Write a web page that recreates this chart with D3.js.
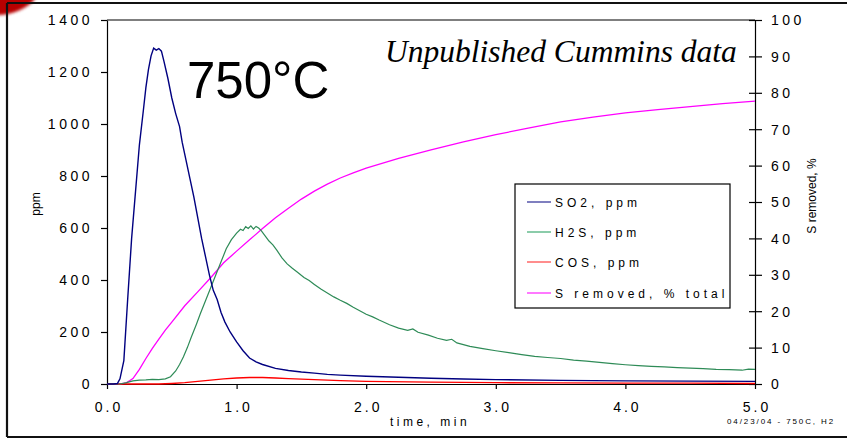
<!DOCTYPE html>
<html>
<head>
<meta charset="utf-8">
<script src="https://cdn.jsdelivr.net/npm/d3@7"></script>
<style>
body{margin:0;background:#fff;}
svg text{font-family:Arial,"Liberation Sans",sans-serif;fill:#000;}
</style>
</head>
<body>
<div id="chart"></div>
<script>
// data: [time min, value]
var so2Data = [[0,0],[0.05,0],[0.08,2],[0.10,20],[0.13,90],[0.16,330],[0.19,560],[0.22,740],[0.25,920],
  [0.28,1050],[0.30,1140],[0.32,1210],[0.34,1262],[0.36,1292],[0.38,1284],[0.40,1290],[0.42,1280],
  [0.44,1240],[0.47,1175],[0.50,1100],[0.53,1040],[0.56,990],[0.58,930],[0.61,860],[0.64,790],
  [0.67,720],[0.70,640],[0.73,560],[0.76,490],[0.79,420],[0.82,360],[0.85,325],[0.88,275],
  [0.91,238],[0.95,200],[1.00,162],[1.05,128],[1.10,100],[1.15,85],[1.20,75],[1.30,60],[1.40,52],
  [1.50,46],[1.60,42],[1.70,37],[1.80,34],[2.00,30],[2.25,26],[2.50,22],[2.75,19],[3.00,17],
  [3.50,14],[4.00,12],[4.50,11],[5.00,10]];

var h2sData = [[0,0],[0.10,0],[0.15,5],[0.20,12],[0.25,15],[0.30,16],[0.35,18],[0.40,17],[0.45,20],
  [0.49,28],[0.53,50],[0.56,75],[0.59,105],[0.62,140],[0.65,180],[0.69,230],[0.72,270],[0.76,320],
  [0.80,370],[0.84,420],[0.88,470],[0.92,520],[0.96,555],[1.00,580],[1.03,595],[1.05,590],[1.07,605],
  [1.09,598],[1.11,608],[1.13,596],[1.15,606],[1.17,600],[1.19,590],[1.22,570],[1.25,550],[1.28,535],
  [1.31,515],[1.35,485],[1.39,462],[1.43,445],[1.47,430],[1.52,410],[1.56,398],[1.60,383],[1.65,365],
  [1.70,350],[1.75,335],[1.80,322],[1.85,310],[1.90,295],[1.95,282],[2.00,268],[2.05,258],[2.10,246],
  [2.18,228],[2.25,215],[2.32,206],[2.36,212],[2.40,199],[2.48,188],[2.55,176],[2.62,168],[2.66,172],
  [2.70,158],[2.80,145],[2.90,136],[3.00,128],[3.10,121],[3.20,113],[3.30,106],[3.40,102],[3.50,98],
  [3.60,92],[3.70,88],[3.80,83],[3.90,78],[4.00,74],[4.10,71],[4.20,68],[4.30,66],[4.40,63],[4.50,61],
  [4.60,59],[4.70,56],[4.80,55],[4.90,53],[4.95,57],[5.00,56]];

var cosData = [[0,0],[0.40,0],[0.50,2],[0.60,5],[0.70,10],[0.80,15],[0.90,20],[1.00,23],[1.10,25],
  [1.20,25],[1.30,23],[1.40,21],[1.60,17],[1.80,13],[2.00,10],[2.50,7],[3.00,5],[3.50,4],[4.00,3],
  [4.50,3],[5.00,2]];

var sRemovedData = [[0,0],[0.10,0],[0.15,0.3],[0.20,1.5],[0.25,4],[0.30,7],[0.35,9.8],[0.40,12.3],
  [0.45,14.8],[0.50,17],[0.60,21.5],[0.70,25.3],[0.80,29.2],[0.90,33.3],[1.00,36.5],[1.10,39.6],
  [1.20,42.7],[1.30,45.7],[1.40,48.3],[1.50,50.8],[1.60,53],[1.70,54.9],[1.80,56.6],[1.90,58],
  [2.00,59.3],[2.25,62],[2.50,64.3],[2.75,66.5],[3.00,68.5],[3.25,70.3],[3.50,72],[3.75,73.3],
  [4.00,74.5],[4.25,75.4],[4.50,76.2],[4.75,77],[5.00,77.7]];

var xTicks = [0,1,2,3,4,5];
var yTicks = [0,200,400,600,800,1000,1200,1400];
var y2Ticks = [0,10,20,30,40,50,60,70,80,90,100];
var legendLabels = ["SO2, ppm","H2S, ppm","COS, ppm","S removed, % total"];
var lineColors = ["#000080","#2e8b57","#ff0000","#ff00ff"];
var legendColors = ["#3a3a9c","#4cb07c","#ff5050","#ff30ff"];

var fullWidth = 847;
var fullHeight = 439;
var margin = {top:20, right:92, bottom:55, left:107};
var width = fullWidth - margin.left - margin.right;
var height = fullHeight - margin.top - margin.bottom;

var root = d3.select("#chart").append("svg")
  .attr("width", fullWidth)
  .attr("height", fullHeight);

root.append("rect").attr("width", fullWidth).attr("height", fullHeight).attr("fill", "#fff");

// red corner decoration from the slide
var defs = root.append("defs");
defs.append("filter").attr("id","blur").append("feGaussianBlur").attr("stdDeviation", 1.6);
root.append("ellipse")
  .attr("cx", 10).attr("cy", 0).attr("rx", 28).attr("ry", 13)
  .attr("transform", "rotate(-18,10,0)")
  .attr("fill", "#b80000")
  .attr("filter", "url(#blur)");

// slide frame
root.append("line").attr("x1",7).attr("x2",fullWidth).attr("y1",3).attr("y2",3)
  .attr("stroke","#111").attr("stroke-width",2.2);
root.append("line").attr("x1",7).attr("x2",7).attr("y1",3).attr("y2",437)
  .attr("stroke","#111").attr("stroke-width",2.2);
root.append("line").attr("x1",7).attr("x2",fullWidth).attr("y1",437).attr("y2",437)
  .attr("stroke","#111").attr("stroke-width",2.2);

var svg = root.append("g")
  .attr("transform", "translate(" + margin.left + "," + margin.top + ")");

var xScale = d3.scaleLinear().domain([0,5]).range([0, width]);
var yScale = d3.scaleLinear().domain([0,1400]).range([height, 0]);
var y2Scale = d3.scaleLinear().domain([0,100]).range([height, 0]);

var xAxis = d3.axisBottom(xScale).tickValues(xTicks).tickFormat(d3.format(".1f")).tickSizeInner(5).tickSizeOuter(0);
var yAxis = d3.axisLeft(yScale).tickValues(yTicks).tickFormat(d3.format("d")).tickSizeInner(6).tickSizeOuter(0);
var y2Axis = d3.axisRight(y2Scale).tickValues(y2Ticks).tickFormat(d3.format("d")).tickSizeInner(7).tickSizeOuter(0);

// top border of plot box
svg.append("line").attr("x1",0).attr("x2",width).attr("y1",0).attr("y2",0)
  .attr("stroke","#000").attr("stroke-width",1.2);

var gx = svg.append("g").attr("transform","translate(0," + height + ")").call(xAxis);
gx.selectAll("text").attr("y", 28).attr("dy", 0).attr("dx", 1.5)
  .style("font-size","14px").attr("letter-spacing", 3);

var gy = svg.append("g").call(yAxis);
gy.selectAll("text").attr("x", -14).attr("dy", "0.35em")
  .style("font-size","14px").attr("letter-spacing", 3.5);

var gy2 = svg.append("g").attr("transform","translate(" + width + ",0)").call(y2Axis);
gy2.selectAll(".tick line").attr("x1", -6).attr("x2", 7);
gy2.selectAll("text").attr("x", 16).attr("dy", "0.35em")
  .style("font-size","14px").attr("letter-spacing", 3.5);

svg.selectAll(".domain").attr("stroke","#000").attr("stroke-width",1.2);
svg.selectAll(".tick line").attr("stroke","#000").attr("stroke-width",1.2);
svg.selectAll(".tick text").attr("fill","#000").style("font-family","Arial, 'Liberation Sans', sans-serif");

// lines
var lineLeft = d3.line().x(function(d){ return xScale(d[0]); }).y(function(d){ return yScale(d[1]); });
var lineRight = d3.line().x(function(d){ return xScale(d[0]); }).y(function(d){ return y2Scale(d[1]); });

svg.append("path").datum(sRemovedData).attr("d", lineRight)
  .attr("fill","none").attr("stroke", lineColors[3]).attr("stroke-width",1.3);
svg.append("path").datum(cosData).attr("d", lineLeft)
  .attr("fill","none").attr("stroke", lineColors[2]).attr("stroke-width",1.3);
svg.append("path").datum(h2sData).attr("d", lineLeft)
  .attr("fill","none").attr("stroke", lineColors[1]).attr("stroke-width",1.2);
svg.append("path").datum(so2Data).attr("d", lineLeft)
  .attr("fill","none").attr("stroke", lineColors[0]).attr("stroke-width",1.4);

// axis titles
root.append("text").attr("transform","translate(40,204) rotate(-90)")
  .attr("text-anchor","middle").style("font-size","12px").text("ppm");
root.append("text").attr("transform","translate(816,196) rotate(-90)")
  .attr("text-anchor","middle").style("font-size","12px").text("S removed, %");
root.append("text").attr("x", 430).attr("y", 426).attr("text-anchor","middle")
  .style("font-size","12px").attr("letter-spacing",3.5).text("time, min");
root.append("text").attr("x", 727).attr("y", 424)
  .style("font-size","8px").attr("letter-spacing",1.9).text("04/23/04 - 750C, H2");

// annotations
root.append("text").attr("x", 187).attr("y", 98)
  .style("font-size","51px").text("750°C");
root.append("text").attr("x", 385).attr("y", 62)
  .style("font-family","'Liberation Serif','Times New Roman',serif")
  .style("font-style","italic").style("font-size","31.5px").text("Unpublished Cummins data");

// legend
var legend = root.append("g").attr("transform","translate(515,184)");
legend.append("rect").attr("width",215).attr("height",124)
  .attr("fill","#fff").attr("stroke","#000").attr("stroke-width",1.2);
var rows = legend.selectAll(".row").data(legendLabels).enter().append("g")
  .attr("transform", function(d,i){ return "translate(0," + [18,48,78,109][i] + ")"; });
rows.append("line").attr("x1",12).attr("x2",36).attr("y1",0).attr("y2",0)
  .attr("stroke", function(d,i){ return legendColors[i]; }).attr("stroke-width",1.3);
rows.append("text").attr("x",40).attr("y",4.5)
  .style("font-size","12px").attr("letter-spacing",4).text(function(d){ return d; });
</script>
</body>
</html>
